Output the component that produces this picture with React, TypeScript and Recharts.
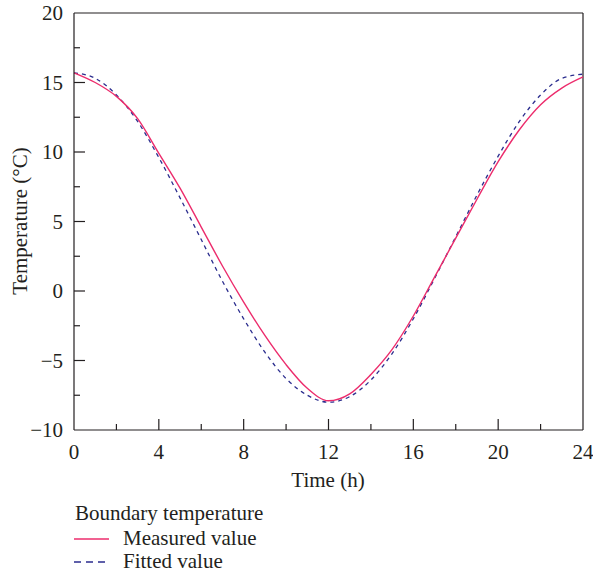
import { LineChart, Line, XAxis, YAxis, ReferenceLine } from "recharts";

const hours = [0, 1, 2, 3, 4, 5, 6, 7, 8, 9, 10, 11, 12, 13, 14, 15, 16, 17, 18, 19, 20, 21, 22, 23, 24];
const measured = [15.7, 15.0, 14.0, 12.4, 9.9, 7.4, 4.6, 1.8, -0.8, -3.2, -5.3, -7.0, -7.9, -7.4, -6.0, -4.2, -1.8, 1.0, 3.8, 6.6, 9.3, 11.6, 13.4, 14.6, 15.4];
const fitted = [15.7, 15.3, 14.1, 12.2, 9.6, 6.7, 3.7, 0.7, -2.0, -4.4, -6.3, -7.5, -8.0, -7.6, -6.4, -4.5, -2.0, 0.9, 3.9, 6.9, 9.7, 12.2, 14.1, 15.3, 15.6];
const xTicks = [0, 2, 4, 6, 8, 10, 12, 14, 16, 18, 20, 22, 24];
const yTicks = [-10, -7.5, -5, -2.5, 0, 2.5, 5, 7.5, 10, 12.5, 15, 17.5, 20];

const data = hours.map((h, i) => ({ h, measured: measured[i], fitted: fitted[i] }));

const FONT = "'Liberation Serif', 'DejaVu Serif', serif";
const FS = 21;
const INK = "#231f20";
const PINK = "#ec2c6c";
const NAVY = "#2b2d8e";

const fmt = (v: number) => (v < 0 ? `\u2212${Math.abs(v)}` : `${v}`);

function YTick(props: any) {
  const { x, y, payload } = props;
  const major = payload.value % 5 === 0;
  return (
    <g>
      {payload.value !== -10 && payload.value !== 20 && (
        <line x1={x} x2={x + (major ? 11 : 6)} y1={y} y2={y} stroke={INK} strokeWidth={1.2} />
      )}
      {major && (
        <text x={x - 11} y={y + 7} textAnchor="end" fontSize={FS} fill={INK} fontFamily={FONT}>
          {fmt(payload.value)}
        </text>
      )}
    </g>
  );
}

function XTick(props: any) {
  const { x, y, payload } = props;
  const major = payload.value % 4 === 0;
  return (
    <g>
      {payload.value !== 0 && payload.value !== 24 && (
        <line x1={x} x2={x} y1={y} y2={y - (major ? 11 : 6)} stroke={INK} strokeWidth={1.2} />
      )}
      {major && (
        <text x={x} y={y + 29} textAnchor="middle" fontSize={FS} fill={INK} fontFamily={FONT}>
          {payload.value}
        </text>
      )}
    </g>
  );
}

export default function App() {
  return (
    <div style={{ position: "absolute", left: 0, top: 0, width: 593, height: 576, background: "#fff" }}>
      <LineChart width={593} height={500} data={data} margin={{ top: 13, right: 10, bottom: 0, left: 0 }}>
        <XAxis
          dataKey="h"
          type="number"
          domain={[0, 24]}
          ticks={xTicks}
          tickSize={0}
          tickMargin={0}
          height={70}
          interval={0}
          stroke={INK}
          strokeWidth={1.2}
          tick={<XTick />}
        />
        <YAxis
          type="number"
          domain={[-10, 20]}
          ticks={yTicks}
          tickSize={0}
          tickMargin={0}
          width={74}
          interval={0}
          stroke={INK}
          strokeWidth={1.2}
          tick={<YTick />}
        />
        <ReferenceLine y={20} stroke={INK} strokeWidth={1.2} />
        <ReferenceLine x={24} stroke={INK} strokeWidth={1.2} />
        <Line
          type="monotone"
          dataKey="fitted"
          stroke={NAVY}
          strokeWidth={1.3}
          strokeDasharray="4 4"
          dot={false}
          isAnimationActive={false}
        />
        <Line
          type="monotone"
          dataKey="measured"
          stroke={PINK}
          strokeWidth={1.4}
          dot={false}
          isAnimationActive={false}
        />
        <text x={328} y={487} textAnchor="middle" fontSize={FS} fill={INK} fontFamily={FONT}>
          Time (h)
        </text>
        <text
          x={27}
          y={221}
          textAnchor="middle"
          fontSize={FS}
          fill={INK}
          fontFamily={FONT}
          transform="rotate(-90 27 221)"
        >
          Temperature (°C)
        </text>
      </LineChart>
      <svg width={593} height={76} style={{ position: "absolute", left: 0, top: 500 }}>
        <text x={75} y={20} fontSize={FS} fill={INK} fontFamily={FONT}>
          Boundary temperature
        </text>
        <line x1={74} x2={109} y1={39} y2={39} stroke={PINK} strokeWidth={1.4} />
        <text x={123} y={45} fontSize={FS} fill={INK} fontFamily={FONT}>
          Measured value
        </text>
        <line x1={74} x2={109} y1={62} y2={62} stroke={NAVY} strokeWidth={1.3} strokeDasharray="7 5" />
        <text x={123} y={68} fontSize={FS} fill={INK} fontFamily={FONT}>
          Fitted value
        </text>
      </svg>
    </div>
  );
}
